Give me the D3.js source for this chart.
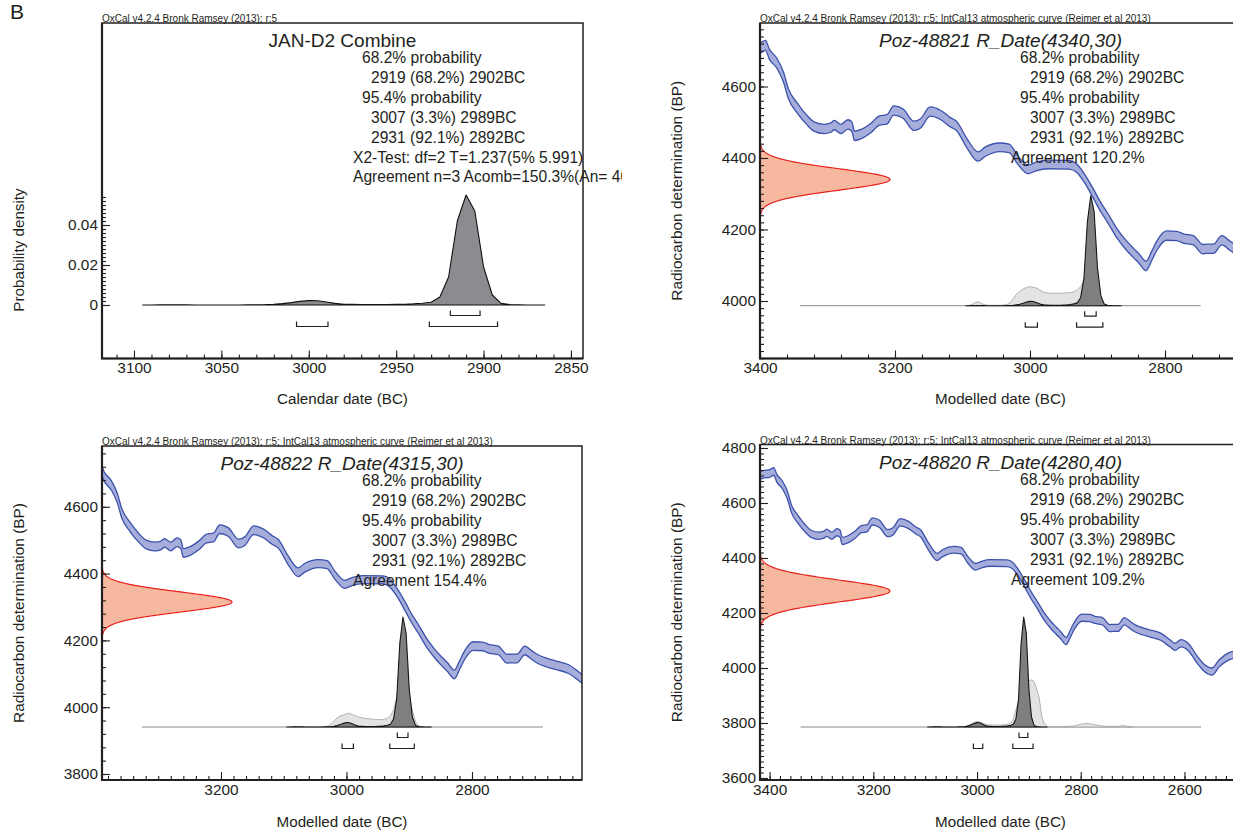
<!DOCTYPE html>
<html>
<head>
<meta charset="utf-8">
<script src="https://cdn.jsdelivr.net/npm/d3@7"></script>
<style>
  body { margin: 0; background: #fff; }
  text { font-family: "Liberation Sans", Arial, Helvetica, sans-serif; fill: #231f20; }
</style>
</head>
<body>
<script>
// ---------------- data ----------------

// IntCal13 atmospheric curve: calendar year BC, 14C age BP, 1 sigma (BP)
const calYear = [3420,3410,3400,3392,3386,3375,3365,3358,3345,3330,3320,3305,3295,3290,3280,3270,3264,3260,3250,3235,
  3223,3212,3202,3188,3172,3162,3148,3132,3118,3109,3093,3077,3066,3045,3031,3018,3003,2990,2974,2942,
  2931,2920,2906,2895,2886,2871,2857,2847,2839,2828,2820,2812,2798,2783,2773,2758,2744,2738,2728,2716,
  2704,2695,2680,2667,2646,2628,2618,2607,2593,2575,2561,2547,2533,2516,2500];
const calBP = [4700,4705,4707,4715,4690,4665,4625,4580,4540,4505,4488,4481,4485,4492,4481,4494,4488,4462,4467,4485,
  4505,4508,4533,4524,4490,4497,4530,4520,4500,4490,4440,4404,4418,4430,4427,4394,4368,4377,4382,4381,
  4372,4345,4300,4262,4236,4189,4155,4135,4120,4098,4125,4155,4183,4182,4175,4170,4145,4146,4146,4170,
  4155,4144,4133,4126,4114,4090,4077,4090,4077,4029,3999,3987,4017,4041,4050];
const calSigma = [14,14,14,14,14,14,14,14,14,13,13,13,13,13,13,13,13,13,13,13,
  13,13,13,13,13,13,13,13,13,13,13,13,13,12,12,12,12,12,12,12,
  12,12,13,13,13,13,13,13,13,13,13,13,13,13,13,13,13,13,13,13,
  13,13,13,13,13,13,13,13,13,13,13,13,13,13,13];

// Modelled (combined) posterior, 5-year bins
const postYear = [3095,3090,3085,3080,3075,3070,3065,3060,3055,3050,3045,3040,3035,3030,3025,3020,3015,3010,3005,3000,
  2995,2990,2985,2980,2975,2970,2965,2960,2955,2950,2945,2940,2935,2930,2925,2920,2915,2910,2905,2900,
  2895,2890,2885,2880,2875,2870,2865];
const postDensity = [0,0,0.0001,0.0001,0.0001,0.0001,0,0,0,0,0,0,0.0001,0.0001,0.0002,0.0004,0.0007,0.0012,0.0018,0.0022,
  0.0021,0.0015,0.0008,0.0004,0.0003,0.0002,0.0002,0.0002,0.0002,0.0003,0.0004,0.0006,0.0009,0.0014,0.004,0.014,0.042,0.055,0.047,0.019,
  0.005,0.0008,0.0002,0.0001,0,0,0];

// Unmodelled calibrated likelihoods [year BC, density]
const lik48821 = [[3095,0],[3090,0.0002],[3085,0.0008],[3080,0.0018],[3075,0.0018],[3070,0.0008],[3065,0.0003],[3060,0.0002],
  [3055,0.0002],[3050,0.0002],[3045,0.0002],[3040,0.0003],[3035,0.0006],[3030,0.0012],[3025,0.0035],[3020,0.0058],[3015,0.0072],
  [3010,0.0084],[3005,0.0092],[3000,0.0095],[2995,0.0092],[2990,0.0088],[2985,0.0078],[2980,0.0068],[2975,0.0065],[2970,0.0062],
  [2965,0.0062],[2960,0.0063],[2955,0.0062],[2950,0.0063],[2945,0.0065],[2940,0.0066],[2935,0.007],[2930,0.0078],[2925,0.0095],
  [2920,0.0125],[2915,0.014],[2910,0.0128],[2905,0.009],[2900,0.0055],[2895,0.0015],[2890,0.0003],[2885,0]];
const lik48822 = [[3035,0],[3030,0.0005],[3025,0.0015],[3020,0.003],[3015,0.0045],[3010,0.0055],[3005,0.006],[3000,0.0066],
  [2995,0.0068],[2990,0.0062],[2985,0.0055],[2980,0.005],[2975,0.0046],[2970,0.0043],[2965,0.0041],[2960,0.004],[2955,0.0038],
  [2950,0.0037],[2945,0.0037],[2940,0.0039],[2935,0.0043],[2930,0.0055],[2925,0.0085],[2920,0.015],[2915,0.022],[2910,0.024],
  [2905,0.021],[2900,0.0155],[2895,0.0085],[2890,0.0025],[2885,0.0005],[2880,0]];
const lik48820 = [[3025,0],[3020,0.0005],[3015,0.001],[3010,0.0017],[3005,0.0024],[3000,0.0027],[2995,0.0025],[2990,0.002],
  [2985,0.0015],[2980,0.0012],[2975,0.001],[2970,0.001],[2965,0.001],[2960,0.001],[2955,0.001],[2950,0.0011],[2945,0.0012],
  [2940,0.0014],[2935,0.0018],[2930,0.004],[2925,0.0085],[2920,0.013],[2915,0.017],[2910,0.0195],[2905,0.0215],[2900,0.0233],
  [2895,0.0235],[2890,0.0228],[2885,0.019],[2880,0.0145],[2875,0.005],[2870,0.0015],[2865,0.0004],[2860,0.0002],[2855,0.0002],
  [2850,0.0002],[2845,0.0002],[2840,0.0002],[2835,0.0002],[2830,0.0002],[2825,0.0003],[2820,0.0004],[2815,0.0005],[2810,0.0007],
  [2805,0.0011],[2800,0.0014],[2795,0.0016],[2790,0.0018],[2785,0.0018],[2780,0.0015],[2775,0.0012],[2770,0.001],[2765,0.0008],
  [2760,0.0006],[2755,0.0004],[2750,0.0003],[2745,0.0003],[2740,0.0003],[2735,0.0003],[2730,0.0003],[2725,0.0005],[2720,0.0007],
  [2715,0.0006],[2710,0.0003],[2705,0.0001],[2700,0]];

// Radiocarbon measurements
const sampleNames = ["Poz-48821", "Poz-48822", "Poz-48820"];
const sampleMeans = [4340, 4315, 4280];
const sampleSDs = [30, 30, 40];
const sampleAgreement = ["120.2%", "154.4%", "109.2%"];
const sampleCalRange = [[3341, 2747], [3326, 2687], [3340, 2568]];

// Highest posterior density ranges (BC)
const hpd68 = [[2919, 2902]];
const hpd95 = [[3007, 2989], [2931, 2892]];
const rangeLines = ["68.2% probability", "2919 (68.2%) 2902BC", "95.4% probability",
  "3007 (3.3%) 2989BC", "2931 (92.1%) 2892BC"];
const combineTitle = "JAN-D2 Combine";
const combineStats = ["X2-Test: df=2 T=1.237(5% 5.991)", "Agreement n=3 Acomb=150.3%(An= 40.8%)"];

// Axis tick values
const combTicksX = [3100, 3050, 3000, 2950, 2900, 2850];
const combTicksY = [0, 0.02, 0.04];

// ---------------- layout ----------------
const W = 1233, H = 832;
const svg = d3.select("body").append("svg").attr("width", W).attr("height", H);
const INK = "#231f20";

svg.append("text").attr("x", 10).attr("y", 18.5).attr("font-size", 21).text("B");

const header1 = "OxCal v4.2.4 Bronk Ramsey (2013); r:5";
const header2 = header1 + "; IntCal13 atmospheric curve (Reimer et al 2013)";

const frames = [
  { x0: 102, x1: 583, y0: 23, y1: 358.5, dom: [3118.3, 2843.1] },
  { x0: 760, x1: 1241, y0: 23, y1: 358.5, dom: [3400, 2687.4], bp: [4000, 4600], bpR: [301, 86.5], base: 305.7,
    minorX: d3.range(3400, 2687, -40), majorX: d3.range(3400, 2687, -200),
    minorY: d3.range(3840, 4778, 20), majorY: d3.range(4000, 4778, 200) },
  { x0: 102, x1: 582, y0: 446, y1: 780, dom: [3389.6, 2624.7], bp: [3800, 4600], bpR: [774, 506.8], base: 727,
    minorX: d3.range(3380, 2624, -20), majorX: d3.range(3200, 2624, -200),
    minorY: d3.range(3800, 4782, 40), majorY: d3.range(3800, 4782, 200) },
  { x0: 760, x1: 1241, y0: 444.5, y1: 780, dom: [3418.5, 2491], bp: [3600, 4800], bpR: [778, 448], base: 727,
    minorX: d3.range(3400, 2491, -20), majorX: d3.range(3400, 2491, -200),
    minorY: d3.range(3600, 4812, 20), majorY: d3.range(3600, 4812, 200) }
];

function styleAxis(g) {
  g.select(".domain").remove();
  g.selectAll("line").attr("stroke", INK).attr("stroke-width", 1.1);
  g.selectAll("text").attr("font-size", 15.4).attr("fill", INK)
    .attr("font-family", '"Liberation Sans", Arial, sans-serif');
}

function drawAxesFrame(f, xs, ys, xMinor, xMajor, yMinor, yMajor, yFmt) {
  const g = svg.append("g");
  g.append("g").attr("transform", `translate(0,${f.y1})`)
    .call(d3.axisBottom(xs).tickValues(xMinor).tickSize(-4).tickFormat(""))
    .call(styleAxis);
  g.append("g").attr("transform", `translate(0,${f.y1})`)
    .call(d3.axisBottom(xs).tickValues(xMajor).tickSize(-8).tickPadding(4).tickFormat(d3.format("d")))
    .call(styleAxis);
  g.append("g").attr("transform", `translate(${f.x0},0)`)
    .call(d3.axisLeft(ys).tickValues(yMinor).tickSize(-4).tickFormat(""))
    .call(styleAxis);
  g.append("g").attr("transform", `translate(${f.x0},0)`)
    .call(d3.axisLeft(ys).tickValues(yMajor).tickSize(-8).tickPadding(4).tickFormat(yFmt))
    .call(styleAxis);
  // frame
  g.append("path")
    .attr("d", `M${f.x0},${f.y1}H${f.x1}V${f.y0}H${f.x0}Z`)
    .attr("fill", "none").attr("stroke", INK).attr("stroke-width", 1.5);
  g.append("path")
    .attr("d", `M${f.x0},${f.y0}V${f.y1}H${f.x1}`)
    .attr("fill", "none").attr("stroke", INK).attr("stroke-width", 2.2);
}

function brackets(xs, base) {
  const g = svg.append("g").attr("fill", "none").attr("stroke", INK).attr("stroke-width", 1.2);
  const rows = [[hpd68, base + 10.5], [hpd95, base + 21.5]];
  rows.forEach(([ranges, yb]) => {
    ranges.forEach(([a, b]) => {
      g.append("path").attr("d", `M${xs(a)},${yb - 5}V${yb}H${xs(b)}V${yb - 5}`);
    });
  });
}

function clipFor(id, f) {
  svg.append("clipPath").attr("id", id)
    .append("rect").attr("x", f.x0).attr("y", f.y0)
    .attr("width", f.x1 - f.x0).attr("height", f.y1 - f.y0);
  return `url(#${id})`;
}

function textBlock(x0, y0, lines, offsets) {
  const g = svg.append("g").attr("font-size", 15.6);
  lines.forEach((t, i) => {
    g.append("text").attr("x", x0 + offsets[i]).attr("y", y0 + 40 + i * 20).text(t);
  });
  return g;
}

const postPairs = postYear.map((y, i) => [y, postDensity[i]]);

// ---------------- panel 1: Combine ----------------
{
  const f = frames[0];
  const xs = d3.scaleLinear().domain(f.dom).range([f.x0, f.x1]);
  const ys = d3.scaleLinear().domain([0, 0.04]).range([305, 225]);
  svg.append("text").attr("x", f.x0).attr("y", f.y0 - 1).attr("font-size", 10).text(header1);

  const clip = clipFor("clip0", f);
  svg.append("path").datum(postPairs).attr("clip-path", clip)
    .attr("d", d3.area().x(d => xs(d[0])).y0(ys(0)).y1(d => ys(d[1])))
    .attr("fill", "#8b8c90").attr("stroke", "#111").attr("stroke-width", 1.1).attr("stroke-linejoin", "round");
  brackets(xs, ys(0));

  drawAxesFrame(f, xs, ys, d3.range(3110, 2849, -10), combTicksX,
    d3.range(0, 0.0545, 0.002), combTicksY, d => d === 0 ? "0" : d3.format(".2f")(d));

  svg.append("text").attr("x", (f.x0 + f.x1) / 2).attr("y", f.y0 + 24)
    .attr("text-anchor", "middle").attr("font-size", 19).text(combineTitle);
  svg.append("clipPath").attr("id", "clipText0").append("rect")
    .attr("x", 0).attr("y", 0).attr("width", 622).attr("height", 420);
  const lines = rangeLines.concat(combineStats);
  const tb = textBlock(f.x0, f.y0, lines, [260, 269, 260, 269, 269, 251, 251]);
  tb.attr("clip-path", "url(#clipText0)");
  tb.select("text:last-child").attr("y", f.y0 + 159);

  svg.append("text").attr("transform", `translate(24,250) rotate(-90)`)
    .attr("text-anchor", "middle").attr("font-size", 15.2).text("Probability density");
  svg.append("text").attr("x", (f.x0 + f.x1) / 2).attr("y", f.y1 + 45)
    .attr("text-anchor", "middle").attr("font-size", 15.2).text("Calendar date (BC)");
}

// ---------------- panels 2-4: R_Date in IntCal13 ----------------
const likelihoods = [lik48821, lik48822, lik48820];
const calPts = calYear.map((y, i) => ({ year: y, bp: calBP[i], s: calSigma[i] }));

for (let k = 0; k < 3; k++) {
  const f = frames[k + 1];
  const xs = d3.scaleLinear().domain(f.dom).range([f.x0, f.x1]);
  const ys = d3.scaleLinear().domain(f.bp).range(f.bpR);
  const dens = d3.scaleLinear().domain([0, 0.055]).range([f.base, f.base - 110]);
  const clip = clipFor("clip" + (k + 1), f);

  svg.append("text").attr("x", f.x0).attr("y", f.y0 - 1).attr("font-size", 10).text(header2);

  const plot = svg.append("g").attr("clip-path", clip);

  // calibration curve band (±1σ)
  plot.append("path").datum(calPts)
    .attr("d", d3.area().x(d => xs(d.year)).y0(d => ys(d.bp - d.s)).y1(d => ys(d.bp + d.s)).curve(d3.curveMonotoneX))
    .attr("fill", "#a6addb");
  [-1, 1].forEach(sgn => {
    plot.append("path").datum(calPts)
      .attr("d", d3.line().x(d => xs(d.year)).y(d => ys(d.bp + sgn * d.s)).curve(d3.curveMonotoneX))
      .attr("fill", "none").attr("stroke", "#3b51ab").attr("stroke-width", 1.3);
  });

  // radiocarbon measurement as a normal distribution on the BP axis
  const mu = sampleMeans[k], sd = sampleSDs[k];
  const bpVals = d3.range(mu - 4.2 * sd, mu + 4.2 * sd + 0.5, 1);
  const rs = d3.scaleLinear().domain([0, 1]).range([f.x0, f.x0 + 130]);
  plot.append("path").datum(bpVals)
    .attr("d", d3.area().y(b => ys(b)).x0(f.x0).x1(b => rs(Math.exp(-0.5 * ((b - mu) / sd) ** 2))))
    .attr("fill", "#f7b8a0");
  plot.append("path").datum(bpVals)
    .attr("d", d3.line().y(b => ys(b)).x(b => rs(Math.exp(-0.5 * ((b - mu) / sd) ** 2))))
    .attr("fill", "none").attr("stroke", "#e8221e").attr("stroke-width", 1.2);

  // calibrated range baseline, likelihood and posterior
  const cr = sampleCalRange[k];
  plot.append("line").attr("x1", xs(cr[0])).attr("x2", xs(cr[1]))
    .attr("y1", f.base).attr("y2", f.base).attr("stroke", "#7a7a7a").attr("stroke-width", 0.9);
  plot.append("path").datum(likelihoods[k])
    .attr("d", d3.area().x(d => xs(d[0])).y0(f.base).y1(d => dens(d[1])))
    .attr("fill", "#e3e3e3").attr("stroke", "#a4a4a4").attr("stroke-width", 0.8);
  plot.append("path").datum(postPairs)
    .attr("d", d3.area().x(d => xs(d[0])).y0(f.base).y1(d => dens(d[1])))
    .attr("fill", "#7f7f80").attr("stroke", "#151515").attr("stroke-width", 1.1).attr("stroke-linejoin", "round");
  brackets(xs, f.base);

  drawAxesFrame(f, xs, ys, f.minorX, f.majorX, f.minorY, f.majorY, d3.format("d"));

  svg.append("text").attr("x", (f.x0 + f.x1) / 2).attr("y", f.y0 + 24)
    .attr("text-anchor", "middle").attr("font-size", 19).attr("font-style", "italic")
    .text(`${sampleNames[k]} R_Date(${mu},${sd})`);
  textBlock(f.x0, f.y0, rangeLines.concat(["Agreement " + sampleAgreement[k]]), [260, 270, 260, 270, 270, 251]);

  svg.append("text").attr("transform", `translate(${f.x0 - 78},${(f.y0 + f.y1) / 2}) rotate(-90)`)
    .attr("text-anchor", "middle").attr("font-size", 15.4).text("Radiocarbon determination (BP)");
  svg.append("text").attr("x", (f.x0 + f.x1) / 2).attr("y", f.y1 + (k === 0 ? 45 : 47))
    .attr("text-anchor", "middle").attr("font-size", 15.2).text("Modelled date (BC)");
}
</script>
</body>
</html>
